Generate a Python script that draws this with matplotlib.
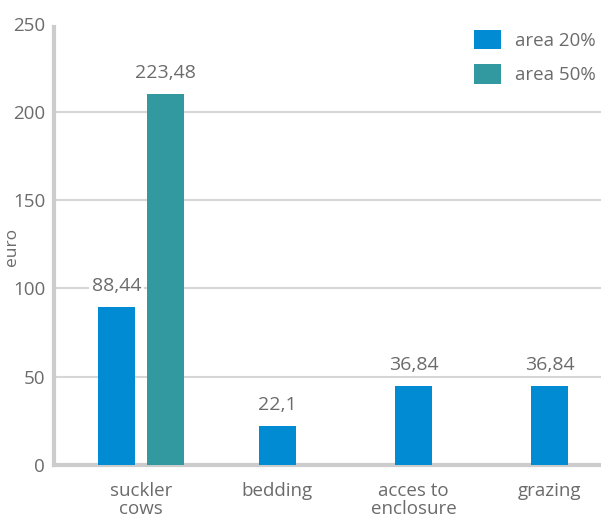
import numpy as np
import matplotlib
matplotlib.use('Agg')
import matplotlib.pyplot as plt
from matplotlib.patches import Rectangle, Patch

categories = ['suckler\ncows', 'bedding', 'acces to\nenclosure', 'grazing']
# bar heights as drawn in the picture
area20 = [89.5, 22.3, 45.0, 45.0]
area50 = [210.5]
# value labels printed above the bars
labels20 = ['88,44', '22,1', '36,84', '36,84']
labels50 = ['223,48']

blue = '#008bd2'
teal = '#3399a1'
txt = '#6b6b6b'

plt.rcParams['font.family'] = ['Open Sans', 'DejaVu Sans']

fig = plt.figure(figsize=(6.01, 5.20), dpi=100)
ax = fig.add_axes([0.09, 0.106, 0.91, 0.848])

x = np.arange(len(categories), dtype=float)
w = 0.27
off = 0.18
x20 = x.copy()
x20[0] = x[0] - off
x50 = [x[0] + off]

for y in [50, 100, 150, 200]:
    ax.axhline(y, color='#d6d6d6', lw=1.5, zorder=0)

# white area behind the legend that hides the 200 gridline
ax.add_patch(Rectangle((0.59, 0.84), 0.41, 0.16, transform=ax.transAxes,
                       facecolor='white', edgecolor='none', zorder=1))

ax.bar(x20, area20, w, color=blue, zorder=3)
ax.bar(x50, area50, w, color=teal, zorder=3)

for xs, hs, ls in [(x20, area20, labels20), (x50, area50, labels50)]:
    for xi, h, s in zip(xs, hs, ls):
        ax.annotate(s, (xi, h), xytext=(0, 15), textcoords='offset points',
                    ha='center', va='center', fontsize=14, color=txt, zorder=4,
                    bbox=dict(facecolor='white', edgecolor='none', pad=2))

ax.set_xlim(-0.638, 3.375)
ax.set_ylim(0, 250)
ax.set_yticks([0, 50, 100, 150, 200, 250])
ax.set_xticks(x)
ax.set_xticklabels(categories, fontsize=13.5, color=txt, linespacing=1.05)
ax.tick_params(axis='y', length=0, pad=6.5, labelsize=13.5, labelcolor=txt)
ax.tick_params(axis='x', length=0, pad=12)
fig.text(12 / 601, 0.525, 'euro', rotation=90, ha='center', va='center',
         fontsize=12.5, color=txt)

for s in ['top', 'right']:
    ax.spines[s].set_visible(False)
ax.spines['left'].set_color('#cccccc')
ax.spines['left'].set_linewidth(3)
ax.spines['left'].set_bounds(0, 248)
ax.spines['bottom'].set_color('#cccccc')
ax.spines['bottom'].set_linewidth(3)

handles = [Patch(facecolor=blue, edgecolor='none'), Patch(facecolor=teal, edgecolor='none')]
leg = ax.legend(handles, ['area 20%', 'area 50%'], loc='upper right',
                bbox_to_anchor=(1.0, 1.0), frameon=False, fontsize=13.5,
                handlelength=1.4, handleheight=1.25, handletextpad=0.75,
                labelspacing=0.75, borderpad=0.1, borderaxespad=0.2)
for t in leg.get_texts():
    t.set_color(txt)

plt.savefig('out.png', dpi=100)
